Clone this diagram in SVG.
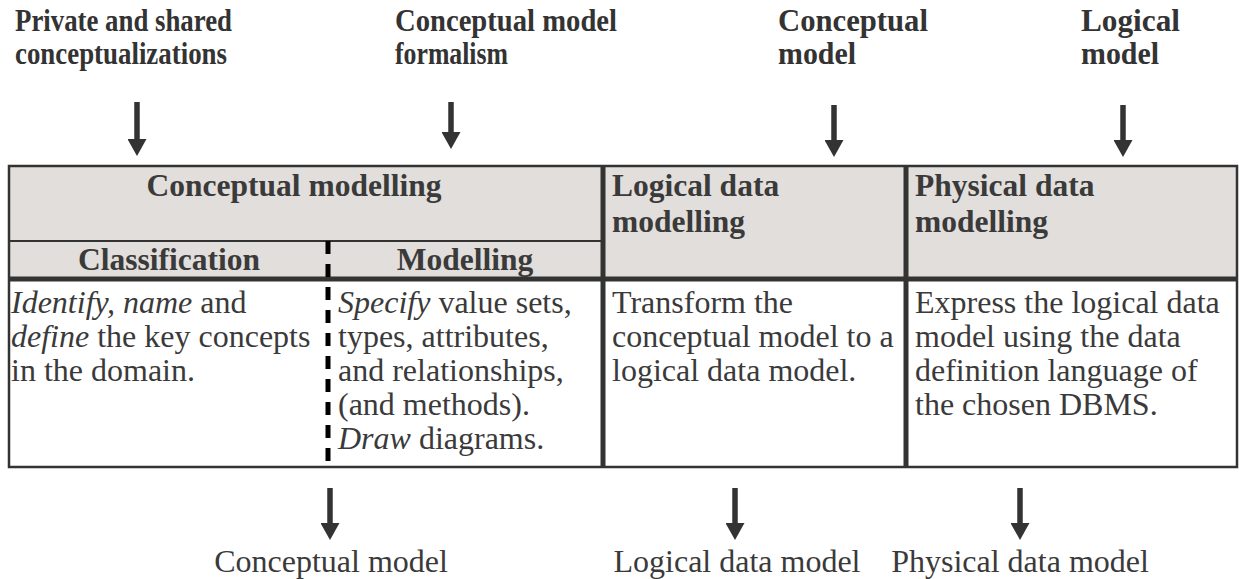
<svg xmlns="http://www.w3.org/2000/svg" width="1239" height="579" viewBox="0 0 1239 579">
  <style>
    text { font-family: "Liberation Serif", "DejaVu Serif", serif; }
    .lbl { font-weight: bold; font-size: 31px; fill: #333; }
    .hd { font-weight: bold; font-size: 31.5px; fill: #3a3a3a; }
    .txt { font-size: 32px; fill: #3a3a3a; }
    .it { font-style: italic; }
    .mid { text-anchor: middle; }
    .hfill { fill: #e2dedb; }
    .frame { fill: none; stroke: #333; stroke-width: 2.5; }
    .rule { stroke: #333; stroke-width: 2; }
    .thick { stroke: #333; stroke-width: 5; }
    .dash { stroke: #000; stroke-width: 5; stroke-dasharray: 13 10; }
    .conn { stroke: #333; stroke-width: 5.5; fill: none; marker-end: url(#head); }
  </style>
  <defs>
    <marker id="head" markerUnits="userSpaceOnUse" markerWidth="17" markerHeight="19" refX="0" refY="9.5" orient="auto">
      <path d="M0,0 L17,9.5 L0,19 Z" fill="#333"/>
    </marker>
  </defs>

  <rect width="1239" height="579" fill="#fff"/>

  <!-- inputs above the table -->
  <g id="in-conceptualizations">
    <text class="lbl" x="15" y="31" textLength="217" lengthAdjust="spacingAndGlyphs">Private and shared</text>
    <text class="lbl" x="15" y="64" textLength="212" lengthAdjust="spacingAndGlyphs">conceptualizations</text>
  </g>
  <g id="in-formalism">
    <text class="lbl" x="395" y="31" textLength="222" lengthAdjust="spacingAndGlyphs">Conceptual model</text>
    <text class="lbl" x="395" y="64" textLength="113" lengthAdjust="spacingAndGlyphs">formalism</text>
  </g>
  <g id="in-conceptual-model">
    <text class="lbl" x="778" y="31" textLength="150" lengthAdjust="spacingAndGlyphs">Conceptual</text>
    <text class="lbl" x="778" y="64" textLength="78" lengthAdjust="spacingAndGlyphs">model</text>
  </g>
  <g id="in-logical-model">
    <text class="lbl" x="1081" y="31" textLength="99" lengthAdjust="spacingAndGlyphs">Logical</text>
    <text class="lbl" x="1081" y="64" textLength="78" lengthAdjust="spacingAndGlyphs">model</text>
  </g>

  <!-- process table -->
  <g id="table">
    <rect class="hfill" x="9" y="166" width="1228" height="113"/>
    <rect class="frame" x="9" y="166" width="1228" height="301"/>
    <line class="rule" x1="9" y1="241" x2="603" y2="241"/>
    <line class="thick" x1="9" y1="279" x2="1237" y2="279"/>
    <line class="thick" x1="603" y1="166" x2="603" y2="467"/>
    <line class="thick" x1="906" y1="166" x2="906" y2="467"/>
    <line class="dash" x1="328" y1="241" x2="328" y2="467"/>
  </g>

  <g id="conceptual-modelling">
    <text class="hd mid" x="294" y="196">Conceptual modelling</text>
    <text class="hd mid" x="169" y="270">Classification</text>
    <text class="hd mid" x="465" y="270">Modelling</text>
    <text class="txt" x="11" y="313"><tspan class="it">Identify, name</tspan> and</text>
    <text class="txt" x="11" y="347"><tspan class="it">define</tspan> the key concepts</text>
    <text class="txt" x="11" y="381">in the domain.</text>
    <text class="txt" x="338" y="313"><tspan class="it">Specify</tspan> value sets,</text>
    <text class="txt" x="338" y="347">types, attributes,</text>
    <text class="txt" x="338" y="381">and relationships,</text>
    <text class="txt" x="338" y="415">(and methods).</text>
    <text class="txt" x="338" y="449"><tspan class="it">Draw</tspan> diagrams.</text>
  </g>

  <g id="logical-data-modelling">
    <text class="hd" x="612" y="196">Logical data</text>
    <text class="hd" x="612" y="232">modelling</text>
    <text class="txt" x="612" y="313">Transform the</text>
    <text class="txt" x="612" y="347">conceptual model to a</text>
    <text class="txt" x="612" y="381">logical data model.</text>
  </g>

  <g id="physical-data-modelling">
    <text class="hd" x="915" y="196">Physical data</text>
    <text class="hd" x="915" y="232">modelling</text>
    <text class="txt" x="915" y="313">Express the logical data</text>
    <text class="txt" x="915" y="347">model using the data</text>
    <text class="txt" x="915" y="381">definition language of</text>
    <text class="txt" x="915" y="415">the chosen DBMS.</text>
  </g>

  <!-- outputs below the table -->
  <g id="out-conceptual-model">
    <text class="txt mid" x="331" y="572">Conceptual model</text>
  </g>
  <g id="out-logical-data-model">
    <text class="txt mid" x="737" y="572">Logical data model</text>
  </g>
  <g id="out-physical-data-model">
    <text class="txt mid" x="1020" y="572">Physical data model</text>
  </g>

  <!-- flow arrows -->
  <g id="connectors">
    <line class="conn" x1="137" y1="102" x2="137" y2="139"/>
    <line class="conn" x1="451" y1="102" x2="451" y2="132"/>
    <line class="conn" x1="834" y1="105" x2="834" y2="140"/>
    <line class="conn" x1="1123" y1="105" x2="1123" y2="140"/>
    <line class="conn" x1="330" y1="488" x2="330" y2="523"/>
    <line class="conn" x1="735" y1="488" x2="735" y2="523"/>
    <line class="conn" x1="1020" y1="488" x2="1020" y2="523"/>
  </g>
</svg>
